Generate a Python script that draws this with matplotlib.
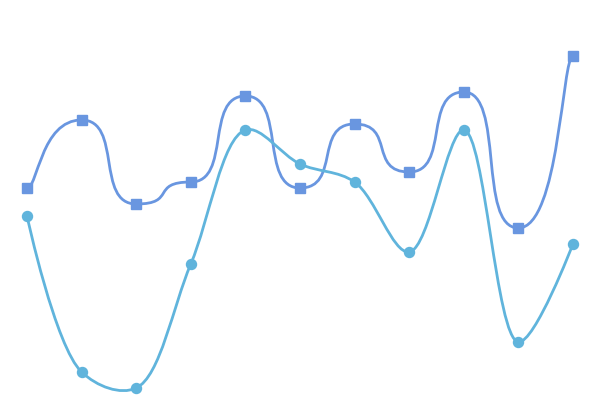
import numpy as np
import matplotlib
matplotlib.use("Agg")
import matplotlib.pyplot as plt
from matplotlib.path import Path
from matplotlib.patches import PathPatch

# data (no axes shown, 0..100 scale)
categories = list(range(11))
series_a = [53, 70, 49, 54.5, 76, 53, 69, 57, 77, 43, 86]       # squares
series_b = [46, 7, 3, 34, 67.5, 59, 54.5, 37, 67.5, 14.5, 39]   # circles

color_a = "#6996e0"
color_b = "#60b4dc"


def step_curve(x, y, k=0.75, k_end=0.2):
    # horizontal tangents everywhere, shorter handles at the two ends
    verts = [(x[0], y[0])]
    codes = [Path.MOVETO]
    n = len(x)
    for i in range(n - 1):
        dx = x[i + 1] - x[i]
        k1 = k_end if i == 0 else k
        k2 = k_end if i == n - 2 else k
        verts += [(x[i] + k1 * dx, y[i]), (x[i + 1] - k2 * dx, y[i + 1]),
                  (x[i + 1], y[i + 1])]
        codes += [Path.CURVE4] * 3
    return Path(verts, codes)


def catmull_rom(ax, x, y, alpha=0.5):
    # centripetal catmull-rom, worked out in pixel space
    tr = ax.transData
    p = tr.transform(np.column_stack([x, y]).astype(float))
    p = np.vstack([p[0], p, p[-1]])
    verts = [p[1]]
    codes = [Path.MOVETO]
    for i in range(1, len(p) - 2):
        p0, p1, p2, p3 = p[i - 1], p[i], p[i + 1], p[i + 2]
        l01 = np.hypot(*(p1 - p0))
        l12 = np.hypot(*(p2 - p1))
        l23 = np.hypot(*(p3 - p2))
        l01a, l12a, l23a = l01 ** alpha, l12 ** alpha, l23 ** alpha
        l01b, l12b, l23b = l01a ** 2, l12a ** 2, l23a ** 2
        c1, c2 = p1, p2
        if l01a > 1e-6:
            a = 2 * l01b + 3 * l01a * l12a + l12b
            nn = 3 * l01a * (l01a + l12a)
            c1 = (p1 * a - p0 * l12b + p2 * l01b) / nn
        if l23a > 1e-6:
            b = 2 * l23b + 3 * l23a * l12a + l12b
            m = 3 * l23a * (l23a + l12a)
            c2 = (p2 * b + p1 * l23b - p3 * l12b) / m
        verts += [c1, c2, p2]
        codes += [Path.CURVE4] * 3
    verts = tr.inverted().transform(np.array(verts))
    return Path(verts, codes)


fig = plt.figure(figsize=(6, 4), dpi=100)
ax = fig.add_axes([0, 0, 1, 1])
ax.set_xlim(-0.4945, 10.495)
ax.set_ylim(0, 100)
ax.axis("off")

ax.add_patch(PathPatch(step_curve(categories, series_a), fill=False,
                       edgecolor=color_a, lw=2.0, zorder=2))
ax.plot(categories, series_a, ls="none", marker="s", ms=7.8,
        color=color_a, zorder=3)

ax.add_patch(PathPatch(catmull_rom(ax, categories, series_b), fill=False,
                       edgecolor=color_b, lw=2.0, zorder=4))
ax.plot(categories, series_b, ls="none", marker="o", ms=7.2,
        color=color_b, zorder=5)

fig.savefig("out.png", dpi=100)
